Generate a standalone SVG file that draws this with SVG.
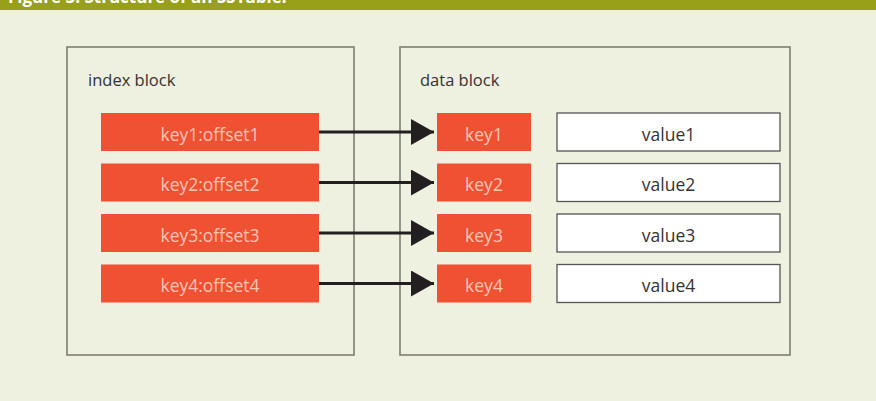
<svg xmlns="http://www.w3.org/2000/svg" width="876" height="401" viewBox="0 0 876 401">
<defs>
<style>
.blk{fill:none;stroke:#7d7e72;stroke-width:1.6}
.lbl{font-family:"Open Sans","Noto Sans",sans-serif;font-size:16.5px;fill:#333333}
.red{fill:#f05133}
.rt{font-family:"Open Sans","Noto Sans",sans-serif;font-size:17.5px;fill:#f7c7b6;text-anchor:middle}
.val{fill:#ffffff;stroke:#555555;stroke-width:1.3}
.vt{font-family:"Open Sans","Noto Sans",sans-serif;font-size:17.5px;fill:#333333;text-anchor:middle}
.con{stroke:#231f20;stroke-width:2.8;fill:none}
</style>
<marker id="ah" markerUnits="userSpaceOnUse" markerWidth="24" markerHeight="26" refX="23" refY="13" orient="auto">
<path d="M0,0 L23,13 L0,26 Z" fill="#231f20"/>
</marker>
</defs>
<rect x="0" y="0" width="876" height="401" fill="#eef0e0"/>
<rect x="0" y="0" width="876" height="10" fill="#98a01a"/>
<text x="8" y="3" font-family="'Open Sans','Noto Sans',sans-serif" font-size="17" font-weight="bold" fill="#ffffff">Figure 3. Structure of an SSTable.</text>
<g id="index-block">
<rect class="blk" x="67" y="47" width="287" height="308"/>
<text class="lbl" x="88" y="86">index block</text>
</g>
<g id="data-block">
<rect class="blk" x="400" y="47" width="390" height="308"/>
<text class="lbl" x="420" y="86">data block</text>
</g>
<g id="idx1"><rect class="red" x="101" y="113" width="218" height="38"/><text class="rt" x="210" y="140.5">key1:offset1</text></g>
<g id="idx2"><rect class="red" x="101" y="163.5" width="218" height="38"/><text class="rt" x="210" y="191">key2:offset2</text></g>
<g id="idx3"><rect class="red" x="101" y="214" width="218" height="38"/><text class="rt" x="210" y="241.5">key3:offset3</text></g>
<g id="idx4"><rect class="red" x="101" y="264.5" width="218" height="38"/><text class="rt" x="210" y="292">key4:offset4</text></g>
<g id="key1"><rect class="red" x="437" y="113" width="94" height="38"/><text class="rt" x="484" y="140.5">key1</text></g>
<g id="key2"><rect class="red" x="437" y="163.5" width="94" height="38"/><text class="rt" x="484" y="191">key2</text></g>
<g id="key3"><rect class="red" x="437" y="214" width="94" height="38"/><text class="rt" x="484" y="241.5">key3</text></g>
<g id="key4"><rect class="red" x="437" y="264.5" width="94" height="38"/><text class="rt" x="484" y="292">key4</text></g>
<g id="value1"><rect class="val" x="557" y="113" width="223" height="38"/><text class="vt" x="668.5" y="140.5">value1</text></g>
<g id="value2"><rect class="val" x="557" y="163.5" width="223" height="38"/><text class="vt" x="668.5" y="191">value2</text></g>
<g id="value3"><rect class="val" x="557" y="214" width="223" height="38"/><text class="vt" x="668.5" y="241.5">value3</text></g>
<g id="value4"><rect class="val" x="557" y="264.5" width="223" height="38"/><text class="vt" x="668.5" y="292">value4</text></g>
<g id="connectors">
<line class="con" x1="319" y1="132" x2="434" y2="132" marker-end="url(#ah)"/>
<line class="con" x1="319" y1="182.5" x2="434" y2="182.5" marker-end="url(#ah)"/>
<line class="con" x1="319" y1="233" x2="434" y2="233" marker-end="url(#ah)"/>
<line class="con" x1="319" y1="283.5" x2="434" y2="283.5" marker-end="url(#ah)"/>
</g>
</svg>
